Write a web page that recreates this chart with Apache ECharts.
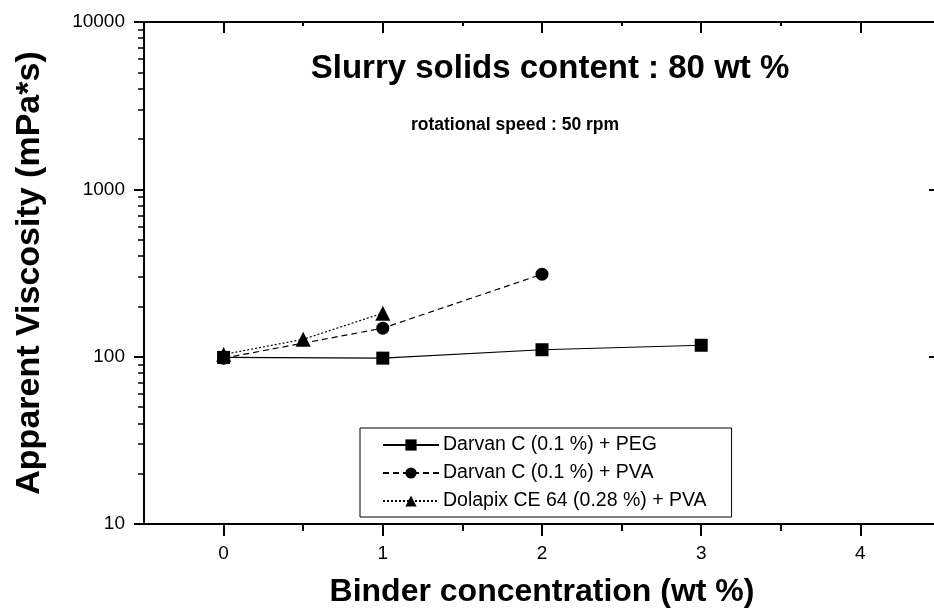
<!DOCTYPE html>
<html><head><meta charset="utf-8">
<script src="https://cdn.jsdelivr.net/npm/echarts@6/dist/echarts.min.js"></script>
<style>html,body{margin:0;padding:0;background:#fff}#c{width:934px;height:614px}</style>
</head><body><div id="c"></div>
<script>
const seriesNames = ['Darvan C (0.1 %) + PEG', 'Darvan C (0.1 %) + PVA', 'Dolapix CE 64 (0.28 %) + PVA'];
const pegX = [0, 1, 2, 3];
const pegY = [99, 98, 110, 117];
const pvaX = [0, 1, 2];
const pvaY = [98, 148, 311];
const dolX = [0, 0.5, 1];
const dolY = [103, 127, 182];
const xMajor = [0, 1, 2, 3, 4];
const xMinor = [0.5, 1.5, 2.5, 3.5];
const yMajor = [10, 100, 1000, 10000];
const yMinor = [20,30,40,50,60,70,80,90,200,300,400,500,600,700,800,900,2000,3000,4000,5000,6000,7000,8000,9000];

const F = '"Liberation Sans", Arial, sans-serif';
const zip = (xs, ys) => xs.map((x, i) => [x, ys[i]]);

const chart = echarts.init(document.getElementById('c'));
const baseX = {type: 'value', min: -0.5, max: 4.5, splitLine: {show: false}};
const baseY = {type: 'log', logBase: 10, min: 10, max: 10000, splitLine: {show: false}};
chart.setOption({
  animation: false,
  title: [
    {text: 'Slurry solids content : 80 wt %', left: 545, top: 47, textAlign: 'center',
     textStyle: {fontFamily: F, fontSize: 33, fontWeight: 'bold', color: '#000'}},
    {text: 'rotational speed : 50 rpm', left: 510, top: 111, textAlign: 'center',
     textStyle: {fontFamily: F, fontSize: 17.5, fontWeight: 'bold', color: '#000'}}
  ],
  legend: {
    left: 360, top: 428, orient: 'vertical',
    borderColor: '#000', borderWidth: 1, padding: [7, 25, 6, 22],
    itemWidth: 56, itemHeight: 14, itemGap: 8,
    textStyle: {fontFamily: F, fontSize: 19.5, color: '#000', padding: [0, 0, 0, -1]},
    data: seriesNames
  },
  grid: {left: 144, width: 796, top: 22, bottom: 90, outerBoundsMode: 'none', containLabel: false},
  xAxis: [
    Object.assign({}, baseX, {
      position: 'bottom',
      name: 'Binder concentration (wt %)', nameLocation: 'middle', nameGap: 52,
      nameTextStyle: {fontFamily: F, fontSize: 32, fontWeight: 'bold', color: '#000'},
      axisLine: {show: true, onZero: false, lineStyle: {color: '#000', width: 2}},
      axisTick: {show: true, inside: false, length: 12, lineStyle: {color: '#000', width: 2}, customValues: xMajor},
      axisLabel: {show: true, margin: 20, fontFamily: F, fontSize: 19, color: '#000', customValues: xMajor}
    }),
    Object.assign({}, baseX, {
      position: 'bottom',
      axisLine: {show: false, onZero: false},
      axisTick: {show: true, inside: false, length: 7, lineStyle: {color: '#000', width: 2}, customValues: xMinor},
      axisLabel: {show: false}
    }),
    Object.assign({}, baseX, {
      position: 'top',
      axisLine: {show: true, onZero: false, lineStyle: {color: '#000', width: 2}},
      axisTick: {show: true, inside: true, length: 11, lineStyle: {color: '#000', width: 2}, customValues: xMajor},
      axisLabel: {show: false}
    }),
    Object.assign({}, baseX, {
      position: 'top',
      axisLine: {show: false, onZero: false},
      axisTick: {show: true, inside: true, length: 4, lineStyle: {color: '#000', width: 2}, customValues: xMinor},
      axisLabel: {show: false}
    })
  ],
  yAxis: [
    Object.assign({}, baseY, {
      position: 'left',
      name: 'Apparent Viscosity (mPa*s)', nameLocation: 'middle', nameGap: 97,
      nameTextStyle: {fontFamily: F, fontSize: 34, fontWeight: 'bold', color: '#000'},
      axisLine: {show: true, onZero: false, lineStyle: {color: '#000', width: 2}},
      axisTick: {show: true, inside: false, length: 10, lineStyle: {color: '#000', width: 2}, customValues: yMajor},
      axisLabel: {show: true, margin: 19, fontFamily: F, fontSize: 19, color: '#000', customValues: yMajor,
                  formatter: v => String(Math.round(v))}
    }),
    Object.assign({}, baseY, {
      position: 'left',
      axisLine: {show: false, onZero: false},
      axisTick: {show: true, inside: false, length: 6, lineStyle: {color: '#000', width: 1.5}, customValues: yMinor},
      axisLabel: {show: false}
    }),
    Object.assign({}, baseY, {
      position: 'right',
      axisLine: {show: true, onZero: false, lineStyle: {color: '#000', width: 2}},
      axisTick: {show: true, inside: true, length: 11, lineStyle: {color: '#000', width: 2}, customValues: yMajor},
      axisLabel: {show: false}
    })
  ],
  series: [
    {name: seriesNames[0], type: 'line', data: zip(pegX, pegY), symbol: 'rect', symbolSize: 13,
     itemStyle: {color: '#000'}, lineStyle: {color: '#000', width: 1.2, type: 'solid'}},
    {name: seriesNames[1], type: 'line', data: zip(pvaX, pvaY), symbol: 'circle', symbolSize: 13,
     itemStyle: {color: '#000'}, lineStyle: {color: '#000', width: 1.2, type: [6, 4]}},
    {name: seriesNames[2], type: 'line', data: zip(dolX, dolY), symbol: 'triangle', symbolSize: 15,
     itemStyle: {color: '#000'}, lineStyle: {color: '#000', width: 1.2, type: [2, 2]}}
  ]
});
</script></body></html>
